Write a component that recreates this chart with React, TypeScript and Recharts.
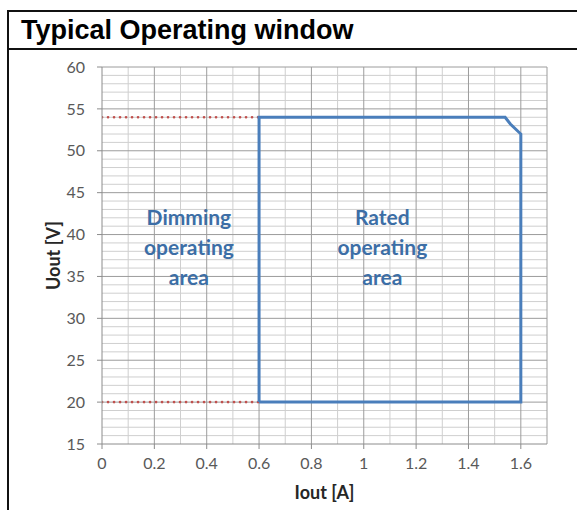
import React from "react";
import { LineChart, Line, XAxis, YAxis, ReferenceLine, ReferenceDot } from "recharts";

// Operating window outline (Iout [A], Uout [V])
const ratedWindow = [
  { i: 0.6, v: 20 },
  { i: 0.6, v: 54 },
  { i: 1.54, v: 54 },
  { i: 1.56, v: 53.2 },
  { i: 1.6, v: 52 },
  { i: 1.6, v: 20 },
  { i: 0.6, v: 20 },
];
const dimUpper = [
  { i: 0, v: 54 },
  { i: 0.6, v: 54 },
];
const dimLower = [
  { i: 0, v: 20 },
  { i: 0.6, v: 20 },
];

const xTicks = [0, 0.2, 0.4, 0.6, 0.8, 1, 1.2, 1.4, 1.6];
const yTicks = [15, 20, 25, 30, 35, 40, 45, 50, 55, 60];
const xMinor = [0.1, 0.3, 0.5, 0.7, 0.9, 1.1, 1.3, 1.5];
const xMajor = [0.2, 0.4, 0.6, 0.8, 1, 1.2, 1.4, 1.6, 1.7];
const yMinor = [
  16, 17, 18, 19, 21, 22, 23, 24, 26, 27, 28, 29, 31, 32, 33, 34, 36, 37, 38, 39,
  41, 42, 43, 44, 46, 47, 48, 49, 51, 52, 53, 54, 56, 57, 58, 59,
];
const yMajor = [20, 25, 30, 35, 40, 45, 50, 55, 60];

const areaLabels = [
  { i: 0.332, v: 38.4, lines: ["Dimming", "operating", "area"] },
  { i: 1.071, v: 38.4, lines: ["Rated", "operating", "area"] },
];

const BLUE = "#4a7ebb";
const TEXT_BLUE = "#3c6ea6";
const RED = "#c0504d";
const MINOR = "#cfcfcf";
const MAJOR = "#9c9c9c";
const FONT = "Lato, 'Open Sans', sans-serif";

const MultiLineLabel = (lines: string[]) => (props: any) => {
  const vb = props.viewBox || {};
  const cx = vb.x + (vb.width || 0) / 2;
  const cy = vb.y + (vb.height || 0) / 2;
  return (
    <text
      x={cx}
      y={cy}
      textAnchor="middle"
      fontFamily={FONT}
      fontWeight={700}
      fontSize={21}
      fill={TEXT_BLUE}
    >
      {lines.map((l, k) => (
        <tspan key={k} x={cx} y={cy + (k - 1) * 30 + 7}>
          {l}
        </tspan>
      ))}
    </text>
  );
};

export default function App() {
  return (
    <div
      style={{
        position: "absolute",
        left: 0,
        top: 0,
        width: 577,
        height: 510,
        overflow: "hidden",
        background: "#fff",
      }}
    >
      <div
        style={{
          position: "absolute",
          left: 7,
          top: 10,
          width: 600,
          height: 560,
          borderLeft: "2px solid #111",
          borderTop: "2px solid #111",
        }}
      />
      <div
        style={{
          position: "absolute",
          left: 7,
          top: 48,
          width: 600,
          height: 0,
          borderTop: "2px solid #111",
        }}
      />
      <div
        style={{
          position: "absolute",
          left: 21,
          top: 14,
          fontFamily: "'Liberation Sans', Arial, sans-serif",
          fontWeight: 700,
          fontSize: 27,
          lineHeight: "32px",
          color: "#000",
          whiteSpace: "nowrap",
        }}
      >
        Typical Operating window
      </div>
      <div style={{ position: "absolute", left: 0, top: 0 }}>
        <LineChart
          width={577}
          height={510}
          margin={{ top: 67, right: 30, bottom: 36, left: 62 }}
        >
          <XAxis
            type="number"
            dataKey="i"
            domain={[0, 1.7]}
            ticks={xTicks}
            allowDataOverflow
            tickSize={5}
            tickMargin={9}
            height={30}
            stroke="#8c8c8c"
            tick={{ fill: "#595959", fontSize: 16, fontFamily: FONT }}
            label={{
              value: "Iout [A]",
              position: "insideBottom",
              offset: -25,
              fill: "#262626",
              fontSize: 18,
              fontWeight: 700,
              fontFamily: FONT,
            }}
          />
          <YAxis
            type="number"
            dataKey="v"
            domain={[15, 60]}
            ticks={yTicks}
            allowDataOverflow
            width={40}
            tickSize={5}
            tickMargin={12}
            stroke="#8c8c8c"
            tick={{ fill: "#595959", fontSize: 16, fontFamily: FONT }}
            label={{
              value: "Uout [V]",
              angle: -90,
              position: "insideLeft",
              offset: -8,
              fill: "#262626",
              fontSize: 18,
              fontWeight: 700,
              fontFamily: FONT,
              style: { textAnchor: "middle" },
            }}
          />
          {xMinor.map((x) => (
            <ReferenceLine key={"xm" + x} x={x} stroke={MINOR} strokeWidth={1} />
          ))}
          {yMinor.map((y) => (
            <ReferenceLine key={"ym" + y} y={y} stroke={MINOR} strokeWidth={1} />
          ))}
          {xMajor.map((x) => (
            <ReferenceLine key={"xM" + x} x={x} stroke={MAJOR} strokeWidth={1} />
          ))}
          {yMajor.map((y) => (
            <ReferenceLine key={"yM" + y} y={y} stroke={MAJOR} strokeWidth={1} />
          ))}
          <Line
            data={dimUpper}
            dataKey="v"
            type="linear"
            stroke={RED}
            strokeWidth={2.6}
            strokeDasharray="0.1 5.9"
            strokeLinecap="round"
            dot={false}
            isAnimationActive={false}
          />
          <Line
            data={dimLower}
            dataKey="v"
            type="linear"
            stroke={RED}
            strokeWidth={2.6}
            strokeDasharray="0.1 5.9"
            strokeLinecap="round"
            dot={false}
            isAnimationActive={false}
          />
          <Line
            data={ratedWindow}
            dataKey="v"
            type="linear"
            stroke={BLUE}
            strokeWidth={3}
            dot={false}
            isAnimationActive={false}
          />
          {areaLabels.map((a, k) => (
            <ReferenceDot
              key={"lab" + k}
              x={a.i}
              y={a.v}
              r={0}
              fill="none"
              stroke="none"
              label={MultiLineLabel(a.lines)}
            />
          ))}
        </LineChart>
      </div>
    </div>
  );
}
